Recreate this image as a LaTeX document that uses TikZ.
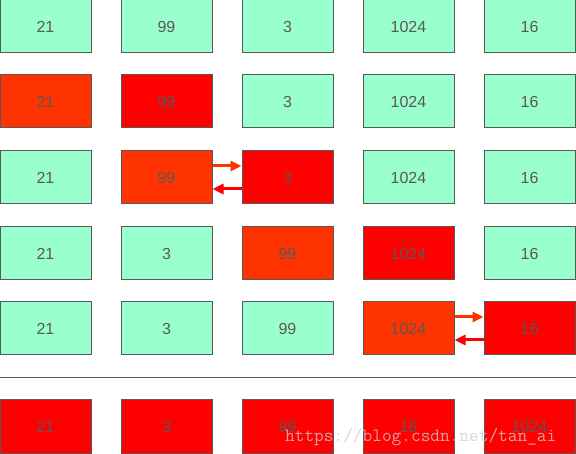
\documentclass[tikz,border=0pt]{standalone}
\usepackage{fontspec}
\setmainfont{Liberation Sans}
\usetikzlibrary{arrows.meta}
\definecolor{mint}{HTML}{99FFCC}
\definecolor{hot}{HTML}{FF3300}
\definecolor{cold}{HTML}{FF0000}
\definecolor{edge}{HTML}{595959}
\tikzset{
  cell/.style={draw=edge,line width=1pt,minimum width=91pt,minimum height=53pt,inner sep=0pt,
    text=edge,font=\fontsize{16}{18}\selectfont},
  swaparrow/.style={line width=3pt,-{Triangle[length=11pt,width=10pt]}}
}
\begin{document}
\begin{tikzpicture}[x=1pt,y=-1pt]
\path[use as bounding box] (0,0) rectangle (576,454);
% row 1
\node[cell,fill=mint] (a1) at (45.5,26.5) {21};
\node[cell,fill=mint] (a2) at (166.5,26.5) {99};
\node[cell,fill=mint] (a3) at (287.5,26.5) {3};
\node[cell,fill=mint] (a4) at (408.5,26.5) {1024};
\node[cell,fill=mint] (a5) at (529.5,26.5) {16};
% row 2
\node[cell,fill=hot] (b1) at (45.5,101.5) {21};
\node[cell,fill=cold] (b2) at (166.5,101.5) {99};
\node[cell,fill=mint] (b3) at (287.5,101.5) {3};
\node[cell,fill=mint] (b4) at (408.5,101.5) {1024};
\node[cell,fill=mint] (b5) at (529.5,101.5) {16};
% row 3
\node[cell,fill=mint] (c1) at (45.5,177.5) {21};
\node[cell,fill=hot] (c2) at (166.5,177.5) {99};
\node[cell,fill=cold] (c3) at (287.5,177.5) {3};
\node[cell,fill=mint] (c4) at (408.5,177.5) {1024};
\node[cell,fill=mint] (c5) at (529.5,177.5) {16};
\draw[swaparrow,hot] ([yshift=11.5pt]c2.east) -- ([yshift=11.5pt]c3.west);
\draw[swaparrow,cold] ([yshift=-11.5pt]c3.west) -- ([yshift=-11.5pt]c2.east);
% row 4
\node[cell,fill=mint] (d1) at (45.5,253.5) {21};
\node[cell,fill=mint] (d2) at (166.5,253.5) {3};
\node[cell,fill=hot] (d3) at (287.5,253.5) {99};
\node[cell,fill=cold] (d4) at (408.5,253.5) {1024};
\node[cell,fill=mint] (d5) at (529.5,253.5) {16};
% row 5
\node[cell,fill=mint] (e1) at (45.5,328.5) {21};
\node[cell,fill=mint] (e2) at (166.5,328.5) {3};
\node[cell,fill=mint] (e3) at (287.5,328.5) {99};
\node[cell,fill=hot] (e4) at (408.5,328.5) {1024};
\node[cell,fill=cold] (e5) at (529.5,328.5) {16};
\draw[swaparrow,hot] ([yshift=11.5pt]e4.east) -- ([yshift=11.5pt]e5.west);
\draw[swaparrow,cold] ([yshift=-11.5pt]e5.west) -- ([yshift=-11.5pt]e4.east);
% result
\draw[edge,line width=1pt] (0,378) -- (576,378);
\node[cell,fill=cold] (f1) at (45.5,426.5) {21};
\node[cell,fill=cold] (f2) at (166.5,426.5) {3};
\node[cell,fill=cold] (f3) at (287.5,426.5) {99};
\node[cell,fill=cold] (f4) at (408.5,426.5) {16};
\node[cell,fill=cold] (f5) at (529.5,426.5) {1024};
\node[anchor=base west,inner sep=0pt,text=black!20,text opacity=.8,font=\ttfamily\fontsize{18.8}{20}\selectfont] (mark) at (285,442) {https://blog.csdn.net/tan\_ai};
\end{tikzpicture}
\end{document}
